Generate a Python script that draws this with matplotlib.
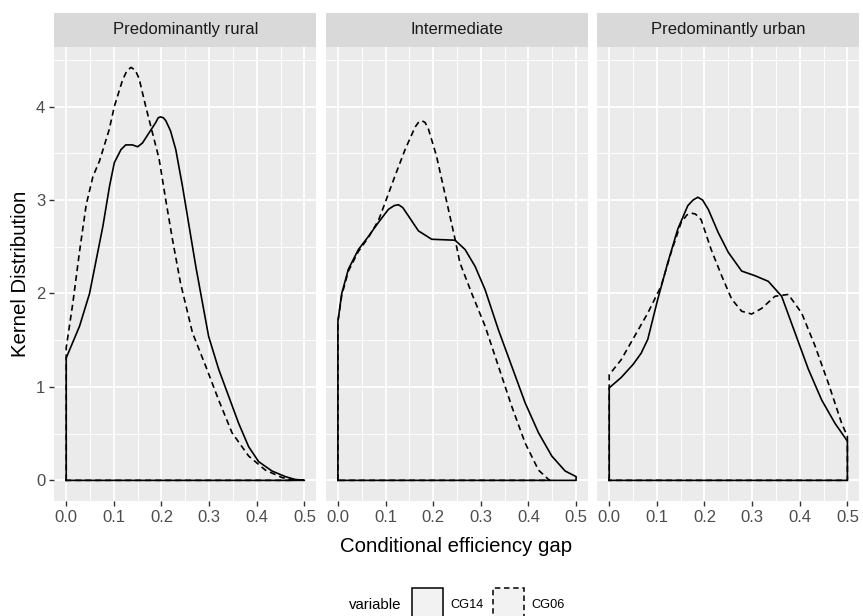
import matplotlib
matplotlib.use("Agg")
import matplotlib.pyplot as plt
import matplotlib.patches as mpatches
import numpy as np

plt.rcParams["font.family"] = ["Liberation Sans", "DejaVu Sans"]

# ── Data ──────────────────────────────────────────────────────────────────────
panels = ["Predominantly rural", "Intermediate", "Predominantly urban"]
series = ["CG14", "CG06"]

rural_cg14_x = [0.0, 0.028, 0.049, 0.063, 0.077, 0.091, 0.101, 0.115, 0.125, 0.139,
                0.150, 0.160, 0.174, 0.188, 0.193, 0.198, 0.204, 0.209, 0.219, 0.230,
                0.244, 0.258, 0.272, 0.286, 0.299, 0.320, 0.341, 0.362, 0.383, 0.404,
                0.432, 0.460, 0.480, 0.500]
rural_cg14_y = [1.31, 1.65, 2.00, 2.36, 2.72, 3.15, 3.40, 3.54, 3.59, 3.59,
                3.57, 3.61, 3.72, 3.83, 3.88, 3.89, 3.88, 3.85, 3.74, 3.54,
                3.15, 2.72, 2.29, 1.90, 1.54, 1.19, 0.90, 0.61, 0.36, 0.20,
                0.10, 0.04, 0.01, 0.00]
rural_cg06_x = [0.0, 0.014, 0.028, 0.042, 0.056, 0.070, 0.090, 0.101, 0.118, 0.127,
                0.136, 0.145, 0.153, 0.167, 0.181, 0.195, 0.209, 0.223, 0.240, 0.265,
                0.293, 0.320, 0.348, 0.383, 0.418, 0.453, 0.480]
rural_cg06_y = [1.42, 1.90, 2.45, 2.95, 3.25, 3.42, 3.75, 4.00, 4.28, 4.38,
                4.42, 4.39, 4.30, 4.00, 3.72, 3.44, 3.00, 2.58, 2.11, 1.58,
                1.22, 0.86, 0.51, 0.26, 0.11, 0.03, 0.00]

inter_cg14_x = [0.0, 0.008, 0.022, 0.043, 0.064, 0.085, 0.106, 0.118, 0.127, 0.136,
                0.148, 0.169, 0.197, 0.246, 0.267, 0.288, 0.309, 0.337, 0.365, 0.393,
                0.421, 0.449, 0.477, 0.500]
inter_cg14_y = [1.70, 2.00, 2.26, 2.47, 2.61, 2.76, 2.90, 2.94, 2.95, 2.92,
                2.83, 2.67, 2.58, 2.57, 2.47, 2.29, 2.04, 1.61, 1.22, 0.83,
                0.51, 0.26, 0.10, 0.04]
inter_cg06_x = [0.0, 0.008, 0.022, 0.043, 0.064, 0.085, 0.099, 0.120, 0.141, 0.162,
                0.169, 0.176, 0.183, 0.190, 0.207, 0.221, 0.235, 0.246, 0.256, 0.281,
                0.309, 0.337, 0.365, 0.393, 0.421, 0.442, 0.445]
inter_cg06_y = [1.70, 1.98, 2.24, 2.45, 2.60, 2.78, 2.97, 3.26, 3.54, 3.78,
                3.83, 3.85, 3.83, 3.76, 3.47, 3.15, 2.83, 2.58, 2.33, 2.00,
                1.65, 1.22, 0.79, 0.40, 0.11, 0.01, 0.00]

urban_cg14_x = [0.0, 0.025, 0.050, 0.067, 0.081, 0.102, 0.123, 0.144, 0.165, 0.176,
                0.186, 0.196, 0.208, 0.229, 0.250, 0.278, 0.306, 0.334, 0.362, 0.390,
                0.418, 0.446, 0.474, 0.500]
urban_cg14_y = [0.99, 1.10, 1.24, 1.36, 1.51, 1.94, 2.33, 2.69, 2.94, 3.00,
                3.03, 3.00, 2.90, 2.65, 2.44, 2.24, 2.19, 2.13, 1.97, 1.58,
                1.19, 0.86, 0.61, 0.42]
urban_cg06_x = [0.0, 0.025, 0.053, 0.081, 0.109, 0.130, 0.151, 0.163, 0.172, 0.181,
                0.193, 0.214, 0.236, 0.257, 0.278, 0.299, 0.320, 0.348, 0.376, 0.404,
                0.432, 0.460, 0.488, 0.500]
urban_cg06_y = [1.13, 1.29, 1.54, 1.79, 2.08, 2.44, 2.76, 2.84, 2.86, 2.85,
                2.79, 2.47, 2.19, 1.94, 1.81, 1.78, 1.84, 1.97, 1.99, 1.79,
                1.44, 1.04, 0.61, 0.47]

curves = {
    "Predominantly rural": {"CG14": (rural_cg14_x, rural_cg14_y), "CG06": (rural_cg06_x, rural_cg06_y)},
    "Intermediate": {"CG14": (inter_cg14_x, inter_cg14_y), "CG06": (inter_cg06_x, inter_cg06_y)},
    "Predominantly urban": {"CG14": (urban_cg14_x, urban_cg14_y), "CG06": (urban_cg06_x, urban_cg06_y)},
}
linestyles = {"CG14": "-", "CG06": (0, (3.6, 2.4))}

x_ticks = [0.0, 0.1, 0.2, 0.3, 0.4, 0.5]
x_tick_labels = ["0.0", "0.1", "0.2", "0.3", "0.4", "0.5"]
y_ticks = [0, 1, 2, 3, 4]

# ── Canvas ────────────────────────────────────────────────────────────────────
W, H = 863, 616
fig = plt.figure(figsize=(W / 100, H / 100), dpi=100, facecolor="white")

panel_left = [54.3, 326.0, 597.3]
panel_w = 262.0
panel_top, panel_bottom = 46.7, 501.0
strip_top = 12.7

ymax = max(max(y) for d in curves.values() for _, y in d.values())
ylim = (-0.05 * ymax, 1.05 * ymax)
xlim = (-0.025, 0.525)

for i, name in enumerate(panels):
    l = panel_left[i] / W
    b = 1 - panel_bottom / H
    h = (panel_bottom - panel_top) / H
    ax = fig.add_axes([l, b, panel_w / W, h])
    ax.set_facecolor("#EBEBEB")
    for s in ax.spines.values():
        s.set_visible(False)
    ax.set_xlim(*xlim)
    ax.set_ylim(*ylim)

    ax.set_xticks(x_ticks)
    ax.set_xticklabels(x_tick_labels)
    ax.set_xticks(np.arange(0.05, 0.5, 0.1), minor=True)
    ax.set_yticks(y_ticks)
    ax.set_yticks(np.arange(0.5, 4.6, 1.0), minor=True)
    ax.grid(which="major", color="white", linewidth=1.3)
    ax.grid(which="minor", color="white", linewidth=0.65)
    ax.set_axisbelow(True)
    ax.tick_params(axis="x", which="major", length=3.6, width=1.0, color="#333333",
                   labelsize=12, labelcolor="#4D4D4D", pad=3)
    ax.tick_params(which="minor", length=0)
    if i == 0:
        ax.tick_params(axis="y", which="major", length=3.6, width=1.0, color="#333333",
                       labelsize=12, labelcolor="#4D4D4D", pad=3)
        ax.set_ylabel("Kernel Distribution", fontsize=14.7, color="black", labelpad=4)
    else:
        ax.tick_params(axis="y", which="major", length=0, labelleft=False)

    for ser in series:
        xs, ys = curves[name][ser]
        px = [xs[0]] + list(xs) + [xs[-1], xs[0]]
        py = [0.0] + list(ys) + [0.0, 0.0]
        ax.plot(px, py, color="black", linewidth=1.2, linestyle=linestyles[ser],
                solid_joinstyle="round", dash_joinstyle="round")

    # strip
    sax = fig.add_axes([l, 1 - panel_top / H, panel_w / W, (panel_top - strip_top) / H])
    sax.set_facecolor("#D9D9D9")
    sax.set_xticks([])
    sax.set_yticks([])
    for s in sax.spines.values():
        s.set_visible(False)
    sax.text(0.5, 0.5, name, ha="center", va="center", fontsize=12, color="#1A1A1A",
             transform=sax.transAxes)

fig.text(456 / W, 1 - 547 / H, "Conditional efficiency gap", ha="center", va="center",
         fontsize=14.7, color="black")

# ── Legend (bottom, partly cut off like the reference) ────────────────────────
fig.text(401 / W, 1 - 605 / H, "variable", ha="right", va="center", fontsize=10.8,
         color="black")
key_x = [411.7, 492.7]
for kx, ser in zip(key_x, series):
    rect = mpatches.Rectangle((kx / W, 1 - 625 / H), 31 / W, 37 / H,
                              transform=fig.transFigure, facecolor="#F2F2F2",
                              edgecolor="black", linewidth=1.1,
                              linestyle=linestyles[ser])
    fig.patches.append(rect)
    fig.text((kx + 39) / W, 1 - 605 / H, ser, ha="left", va="center", fontsize=9.2,
             color="black")

fig.savefig("out.png", dpi=100, facecolor="white")
